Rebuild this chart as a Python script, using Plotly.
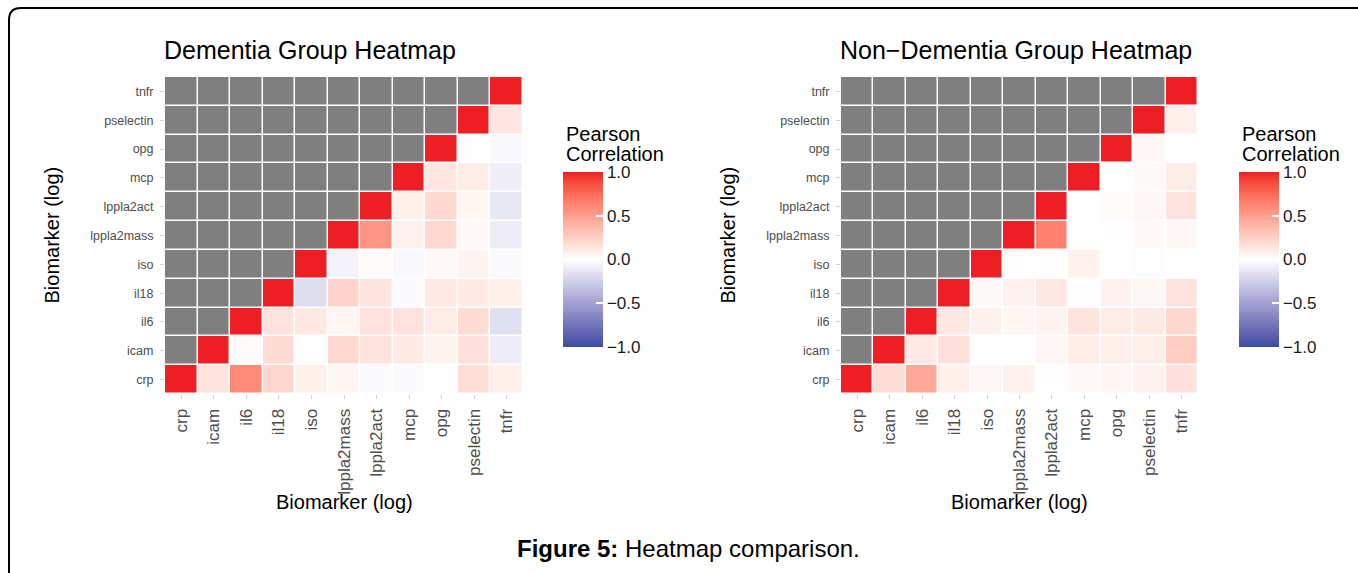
import numpy as np
import plotly.graph_objects as go

W, H = 1358, 573

biomarkers = ["crp", "icam", "il6", "il18", "iso", "lppla2mass", "lppla2act",
              "mcp", "opg", "pselectin", "tnfr"]

# Upper-triangle correlations (row i vs columns j > i)
dementia_rows = [
    [0.14, 0.60, 0.21, 0.08, 0.05, -0.02, -0.02, -0.01, 0.17, 0.08],  # crp
    [0.02, 0.19, -0.01, 0.20, 0.15, 0.11, 0.06, 0.16, -0.09],         # icam
    [0.15, 0.12, 0.05, 0.15, 0.15, 0.10, 0.19, -0.16],                # il6
    [-0.17, 0.22, 0.14, -0.02, 0.11, 0.11, 0.08],                     # il18
    [-0.06, 0.02, -0.04, 0.03, 0.06, -0.03],                          # iso
    [0.55, 0.07, 0.20, 0.03, -0.09],                                  # lppla2mass
    [0.08, 0.20, 0.05, -0.12],                                        # lppla2act
    [0.13, 0.10, -0.08],                                              # mcp
    [-0.005, -0.04],                                                  # opg
    [0.13],                                                           # pselectin
    [],                                                               # tnfr
]

nondementia_rows = [
    [0.18, 0.45, 0.08, 0.04, 0.07, 0.01, 0.03, 0.05, 0.07, 0.16],     # crp
    [0.11, 0.16, 0.00, 0.00, 0.04, 0.10, 0.09, 0.09, 0.26],           # icam
    [0.12, 0.07, 0.05, 0.06, 0.14, 0.10, 0.11, 0.21],                 # il6
    [0.03, 0.07, 0.12, 0.01, 0.07, 0.04, 0.15],                       # il18
    [0.01, 0.01, 0.07, 0.00, -0.01, 0.00],                            # iso
    [0.65, 0.00, 0.01, 0.03, 0.04],                                   # lppla2mass
    [0.00, 0.02, 0.04, 0.14],                                         # lppla2act
    [0.00, 0.03, 0.10],                                               # mcp
    [0.04, 0.00],                                                     # opg
    [0.08],                                                           # pselectin
    [],                                                               # tnfr
]

cbar_ticks = [-1.0, -0.5, 0.0, 0.5, 1.0]
cbar_ticktext = ["\u22121.0", "\u22120.5", "0.0", "0.5", "1.0"]


def build(rows):
    n = len(biomarkers)
    z = [[None] * n for _ in range(n)]
    g = [[None] * n for _ in range(n)]
    for i in range(n):
        z[i][i] = 1.0
        for k, v in enumerate(rows[i]):
            z[i][i + 1 + k] = v
        for j in range(i):
            g[i][j] = 1  # NA cells shown in grey
    return z, g


# Lab interpolation for a ggplot-like gradient2 colour scale
def hex2rgb(h):
    h = h.lstrip("#")
    return np.array([int(h[k:k + 2], 16) for k in (0, 2, 4)]) / 255.0


def srgb2lin(c):
    return np.where(c <= 0.04045, c / 12.92, ((c + 0.055) / 1.055) ** 2.4)


def lin2srgb(c):
    return np.where(c <= 0.0031308, 12.92 * c, 1.055 * np.power(np.clip(c, 0, None), 1 / 2.4) - 0.055)


M = np.array([[0.4124, 0.3576, 0.1805], [0.2126, 0.7152, 0.0722], [0.0193, 0.1192, 0.9505]])
Mi = np.linalg.inv(M)
WP = np.array([0.95047, 1.0, 1.08883])


def f(t):
    d = 6 / 29
    return np.where(t > d ** 3, np.cbrt(t), t / (3 * d * d) + 4 / 29)


def finv(t):
    d = 6 / 29
    return np.where(t > d, t ** 3, 3 * d * d * (t - 4 / 29))


def rgb2lab(rgb):
    xyz = M @ srgb2lin(rgb) / WP
    fx, fy, fz = f(xyz)
    return np.array([116 * fy - 16, 500 * (fx - fy), 200 * (fy - fz)])


def lab2rgb(lab):
    L, a, b = lab
    fy = (L + 16) / 116
    xyz = np.array([finv(fy + a / 500), finv(fy), finv(fy - b / 200)]) * WP
    return np.clip(lin2srgb(Mi @ xyz), 0, 1)


low, mid, high = rgb2lab(hex2rgb("#3C4BA2")), rgb2lab(hex2rgb("#FFFFFF")), rgb2lab(hex2rgb("#EE1E25"))
colorscale = []
for t in np.linspace(0, 1, 41):
    if t < 0.5:
        lab = low + (mid - low) * (t / 0.5)
    else:
        lab = mid + (high - mid) * ((t - 0.5) / 0.5)
    r, g_, b = (lab2rgb(lab) * 255).round().astype(int)
    colorscale.append([float(t), f"rgb({r},{g_},{b})"])

fig = go.Figure()

panels = [
    dict(rows=dementia_rows, title="Dementia Group Heatmap", x0=165, x1=523, cb=563, yt=52),
    dict(rows=nondementia_rows, title="Non\u2212Dementia Group Heatmap", x0=841, x1=1198, cb=1239, yt=728),
]
y0, y1 = 77, 394
FONT = "Liberation Sans, Arial, sans-serif"


def px(x):
    return x / W


def py(y):
    return 1 - y / H


for idx, p in enumerate(panels):
    z, g = build(p["rows"])
    sfx = "" if idx == 0 else "2"
    fig.add_trace(go.Heatmap(
        z=g, x=biomarkers, y=biomarkers, xaxis="x" + sfx, yaxis="y" + sfx,
        colorscale=[[0, "#7F7F7F"], [1, "#7F7F7F"]], showscale=False,
        xgap=1.5, ygap=1.5, hoverinfo="skip"))
    fig.add_trace(go.Heatmap(
        z=z, x=biomarkers, y=biomarkers, xaxis="x" + sfx, yaxis="y" + sfx,
        colorscale=colorscale, zmin=-1, zmax=1, xgap=1.5, ygap=1.5,
        colorbar=dict(
            x=px(p["cb"]), xanchor="left", xref="paper",
            y=py(259.5), yanchor="middle", len=175, lenmode="pixels",
            thickness=40, thicknessmode="pixels", outlinewidth=0,
            tickvals=cbar_ticks, ticktext=cbar_ticktext, ticks="inside",
            ticklen=7, tickcolor="white", tickwidth=1.5,
            tickfont=dict(family=FONT, size=17, color="#1a1a1a"),
            xpad=0, ypad=0,
        )))
    fig.update_layout(**{
        "xaxis" + sfx: dict(domain=[px(p["x0"]), px(p["x1"])], anchor="y" + sfx,
                            tickangle=-90, ticks="outside", ticklen=4, tickcolor="#d0d0d0",
                            ticklabelstandoff=3,
                            tickfont=dict(family=FONT, size=17, color="#4D4D4D"),
                            showgrid=False, zeroline=False, showline=False),
        "yaxis" + sfx: dict(domain=[py(y1), py(y0)], anchor="x" + sfx,
                            ticks="outside", ticklen=4, tickcolor="#d0d0d0",
                            ticklabelstandoff=4,
                            tickfont=dict(family=FONT, size=12.5, color="#4D4D4D"),
                            showgrid=False, zeroline=False, showline=False),
    })
    # panel title
    fig.add_annotation(text=p["title"], x=px(p["x0"] - 3), y=py(50), xref="paper", yref="paper",
                       xanchor="left", yanchor="middle", showarrow=False,
                       font=dict(family=FONT, size=25, color="black"))
    # axis titles
    fig.add_annotation(text="Biomarker (log)", x=px((p["x0"] + p["x1"]) / 2), y=py(502),
                       xref="paper", yref="paper", xanchor="center", yanchor="middle",
                       showarrow=False, font=dict(family=FONT, size=20, color="black"))
    fig.add_annotation(text="Biomarker (log)", x=px(p["yt"]), y=py((y0 + y1) / 2),
                       xref="paper", yref="paper", xanchor="center", yanchor="middle",
                       textangle=-90, showarrow=False,
                       font=dict(family=FONT, size=20, color="black"))
    # legend title
    for line, yy in (("Pearson", 134), ("Correlation", 154)):
        fig.add_annotation(text=line, x=px(p["cb"] + 1), y=py(yy),
                           xref="paper", yref="paper", xanchor="left", yanchor="middle",
                           showarrow=False, font=dict(family=FONT, size=20, color="black"))

fig.add_annotation(text="<b>Figure 5:</b> Heatmap comparison.", x=px(688), y=py(548),
                   xref="paper", yref="paper", xanchor="center", yanchor="middle",
                   showarrow=False, font=dict(family=FONT, size=24, color="black"))

# rounded frame around the figure (runs off the right and bottom edges)
frame = (f"M {px(9)},{py(580)} L {px(9)},{py(20)} Q {px(9)},{py(8)} {px(21)},{py(8)} "
         f"L {px(1365)},{py(8)}")
fig.add_shape(type="path", path=frame, xref="paper", yref="paper",
              line=dict(color="black", width=2))

fig.update_layout(width=W, height=H, margin=dict(l=0, r=0, t=0, b=0),
                  paper_bgcolor="white", plot_bgcolor="white", showlegend=False,
                  font=dict(family=FONT))

fig.write_html("out.html")
